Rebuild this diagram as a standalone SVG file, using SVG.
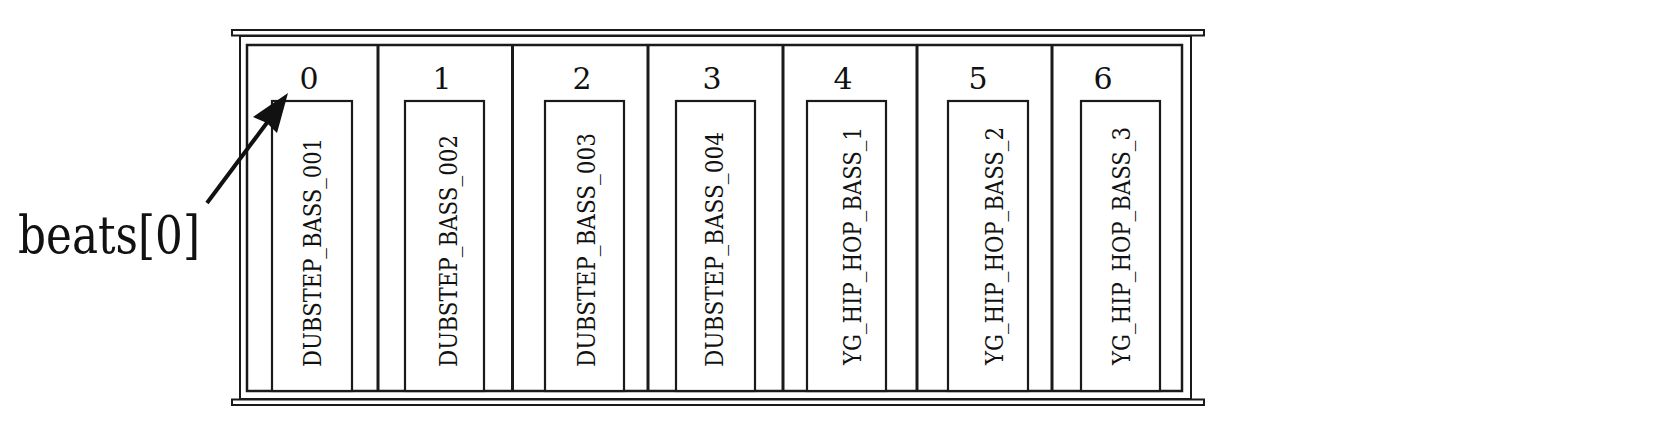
<svg xmlns="http://www.w3.org/2000/svg" width="1655" height="433" viewBox="0 0 1655 433">
<style>
.ln{fill:none;stroke:#1a1a1a;stroke-width:2}
.sep{stroke:#1a1a1a;stroke-width:3}
.bar{fill:#fff;stroke:#1a1a1a;stroke-width:2}
.box{fill:#fff;stroke:#1a1a1a;stroke-width:2.2}
.idx{font-family:"DejaVu Serif",serif;font-size:30px;fill:#111;text-anchor:middle}
.lbl{font-family:"DejaVu Serif",serif;font-size:25px;fill:#111}
.big{font-family:"DejaVu Serif",serif;font-size:53px;fill:#111}
</style>
<rect width="1655" height="433" fill="#fff"/>
<g id="frame">
  <rect class="bar" x="232" y="30" width="972" height="5.5"/>
  <rect class="ln" x="240" y="36" width="951" height="363"/>
  <rect class="ln" x="247" y="45" width="935" height="346" style="stroke-width:2.5"/>
  <line class="sep" x1="378" y1="45" x2="378" y2="391"/>
  <line class="sep" x1="512.5" y1="45" x2="512.5" y2="391"/>
  <line class="sep" x1="648" y1="45" x2="648" y2="391"/>
  <line class="sep" x1="783" y1="45" x2="783" y2="391"/>
  <line class="sep" x1="917" y1="45" x2="917" y2="391"/>
  <line class="sep" x1="1052" y1="45" x2="1052" y2="391"/>
  <rect class="bar" x="232" y="399.5" width="972" height="5.5"/>
</g>
<g id="slot0">
  <text class="idx" x="309" y="89">0</text>
  <rect class="box" x="272" y="101" width="80" height="290"/>
  <text class="lbl" transform="translate(321,367) rotate(-90)" textLength="229" lengthAdjust="spacingAndGlyphs">DUBSTEP_BASS_001</text>
</g>
<g id="slot1">
  <text class="idx" x="442" y="89">1</text>
  <rect class="box" x="405" y="101" width="79" height="290"/>
  <text class="lbl" transform="translate(457,367) rotate(-90)" textLength="232" lengthAdjust="spacingAndGlyphs">DUBSTEP_BASS_002</text>
</g>
<g id="slot2">
  <text class="idx" x="582" y="89">2</text>
  <rect class="box" x="545" y="101" width="79" height="290"/>
  <text class="lbl" transform="translate(595,367) rotate(-90)" textLength="234" lengthAdjust="spacingAndGlyphs">DUBSTEP_BASS_003</text>
</g>
<g id="slot3">
  <text class="idx" x="712" y="89">3</text>
  <rect class="box" x="676" y="101" width="79" height="290"/>
  <text class="lbl" transform="translate(723,367) rotate(-90)" textLength="235" lengthAdjust="spacingAndGlyphs">DUBSTEP_BASS_004</text>
</g>
<g id="slot4">
  <text class="idx" x="843" y="89">4</text>
  <rect class="box" x="807" y="101" width="79" height="290"/>
  <text class="lbl" transform="translate(861,365) rotate(-90)" textLength="238" lengthAdjust="spacingAndGlyphs">YG_HIP_HOP_BASS_1</text>
</g>
<g id="slot5">
  <text class="idx" x="978" y="89">5</text>
  <rect class="box" x="948" y="101" width="80" height="290"/>
  <text class="lbl" transform="translate(1003,365) rotate(-90)" textLength="238" lengthAdjust="spacingAndGlyphs">YG_HIP_HOP_BASS_2</text>
</g>
<g id="slot6">
  <text class="idx" x="1103" y="89">6</text>
  <rect class="box" x="1081" y="101" width="79" height="290"/>
  <text class="lbl" transform="translate(1130,365) rotate(-90)" textLength="238" lengthAdjust="spacingAndGlyphs">YG_HIP_HOP_BASS_3</text>
</g>
<g id="pointer">
  <text class="big" x="18" y="253" textLength="182" lengthAdjust="spacingAndGlyphs">beats[0]</text>
</g>
<g id="connectors">
  <line x1="207" y1="203" x2="272" y2="116" stroke="#111" stroke-width="4"/>
  <path d="M288,93 L253,117 L267,123 L277,133 Z" fill="#111"/>
</g>
</svg>
